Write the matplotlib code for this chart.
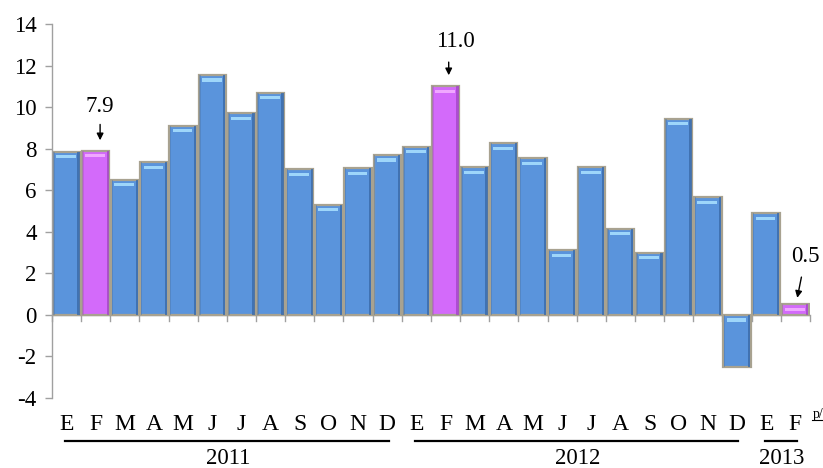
import matplotlib
matplotlib.use("Agg")
import matplotlib.pyplot as plt
import numpy as np

months = ["E", "F", "M", "A", "M", "J", "J", "A", "S", "O", "N", "D",
          "E", "F", "M", "A", "M", "J", "J", "A", "S", "O", "N", "D",
          "E", "F"]
values = [7.85, 7.9, 6.5, 7.35, 9.1, 11.55, 9.7, 10.7, 7.0, 5.3, 7.05, 7.7,
          8.1, 11.0, 7.1, 8.25, 7.55, 3.1, 7.1, 4.15, 3.0, 9.45, 5.65, -2.5,
          4.9, 0.5]
highlight = [1, 13, 25]
years = ["2011", "2012", "2013"]
year_spans = [(0, 11), (12, 23), (24, 25)]
yticks = [-4, -2, 0, 2, 4, 6, 8, 10, 12, 14]

plt.rcParams['font.family'] = ['Liberation Serif', 'DejaVu Serif']

fig = plt.figure(figsize=(8.23, 4.68), dpi=100)
ax = fig.add_axes([0.0632, 0.1496, 0.9208, 0.7991])

x = np.arange(len(values))
blue = "#5A94DC"
purple = "#D36AFA"
colors = [purple if i in highlight else blue for i in x]
dark = ["#A545C8" if i in highlight else "#3A6AA8" for i in x]
light = ["#F0A8FF" if i in highlight else "#9ED6FA" for i in x]

W = 0.94
ax.bar(x, values, width=W, color=colors, edgecolor="#A8A290", linewidth=1.6, zorder=2)
vals = np.array(values)
ax.bar(x + W / 2 - 0.06, vals, width=0.08, color=dark, linewidth=0, zorder=3, alpha=0.8)
ax.bar(x - W / 2 + 0.04, vals, width=0.05, color=dark, linewidth=0, zorder=3, alpha=0.35)
tops = np.maximum(vals, 0)
ax.bar(x - 0.02, np.full(len(vals), 0.15), bottom=tops - 0.32, width=W * 0.72,
       color=light, linewidth=0, zorder=4)

ax.set_xlim(-0.5, len(values) - 0.5)
ax.set_ylim(-4, 14)
ax.set_yticks(yticks)
ax.set_yticklabels([str(t) for t in yticks], fontsize=16.5)

for s in ["top", "right", "bottom"]:
    ax.spines[s].set_visible(False)
ax.spines["left"].set_color("#A0A0A0")
ax.spines["left"].set_linewidth(1.0)
ax.tick_params(axis="y", colors="#A0A0A0", length=5, width=1.0, labelcolor="black", pad=6)

ax.axhline(0, color="#A0A0A0", lw=1.0, zorder=1)
ax.set_xticks([])
for b in np.arange(-0.5, len(values) + 0.5, 1.0):
    ax.plot([b, b], [0, -0.3], color="#A0A0A0", lw=1.0, clip_on=False, zorder=1)

trans = ax.get_xaxis_transform()
for i, m in enumerate(months):
    ax.text(i, -0.072, m, transform=trans, ha="center", va="center", fontsize=17)

for (a, b), yr in zip(year_spans, years):
    ax.plot([a - 0.05, b + 0.05], [-0.114, -0.114], transform=trans, color="black",
            lw=1.6, clip_on=False)
    ax.text((a + b) / 2 + 0.05, -0.162, yr, transform=trans, ha="center", va="center", fontsize=16.5)

ax.text(25.78, -0.045, "p/", transform=trans, ha="center", va="center", fontsize=10)
ax.plot([25.58, 25.98], [-0.06, -0.06], transform=trans, color="black", lw=0.8, clip_on=False)

ax.annotate("", xy=(1.15, 8.27), xytext=(1.15, 9.3),
            arrowprops=dict(arrowstyle="-|>", color="black", lw=1.0, mutation_scale=10))
ax.text(1.15, 10.05, "7.9", ha="center", va="center", fontsize=16.5)
ax.annotate("", xy=(13.11, 11.4), xytext=(13.11, 12.3),
            arrowprops=dict(arrowstyle="-|>", color="black", lw=1.0, mutation_scale=10))
ax.text(13.35, 13.14, "11.0", ha="center", va="center", fontsize=16.5)
ax.annotate("", xy=(25.05, 0.69), xytext=(25.23, 1.95),
            arrowprops=dict(arrowstyle="-|>", color="black", lw=1.0, mutation_scale=10))
ax.text(25.33, 2.79, "0.5", ha="center", va="center", fontsize=16.5)

fig.savefig("out.png", dpi=100)
